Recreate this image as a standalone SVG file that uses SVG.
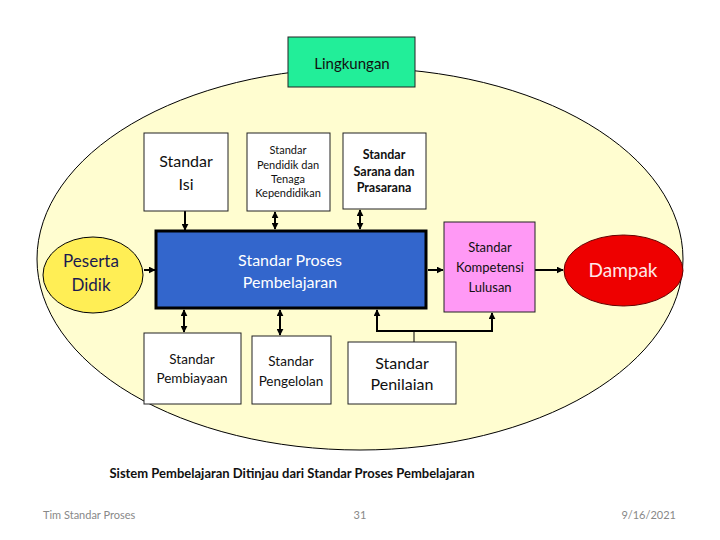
<svg xmlns="http://www.w3.org/2000/svg" width="720" height="540" viewBox="0 0 720 540">
<defs>
<marker id="ah" viewBox="0 0 10 10" refX="9" refY="5" markerWidth="3.5" markerHeight="3.5" orient="auto-start-reverse">
<path d="M0,0 L10,5 L0,10 z" fill="#000"/>
</marker>
<style>
text{font-family:Lato,"Open Sans","Liberation Sans",sans-serif;text-anchor:middle;fill:#111}
.box{fill:#fff;stroke:#222;stroke-width:1}
.c{fill:none;stroke:#000;stroke-width:2}
.a{marker-end:url(#ah)}
.aa{marker-start:url(#ah);marker-end:url(#ah)}
.foot{fill:#888;font-size:11px}
</style>
</defs>
<rect width="720" height="540" fill="#fff"/>
<g id="lingkungan-area">
<ellipse cx="360" cy="259" rx="323" ry="191" fill="#FFFDD0" stroke="#000" stroke-width="1"/>
</g>
<g id="lingkungan">
<rect x="288" y="37" width="127" height="50" fill="#22EE99" stroke="#222" stroke-width="1"/>
<text x="352" y="69" font-size="15">Lingkungan</text>
</g>
<g id="connectors">
<line class="c a" x1="185" y1="211" x2="185" y2="230"/>
<line class="c aa" x1="275" y1="212" x2="275" y2="229"/>
<line class="c aa" x1="360" y1="210" x2="360" y2="229"/>
<line class="c a" x1="144" y1="270" x2="155" y2="270"/>
<line class="c a" x1="428" y1="270" x2="443" y2="270"/>
<line class="c a" x1="535" y1="270" x2="563" y2="270"/>
<line class="c aa" x1="184" y1="310" x2="184" y2="332"/>
<line class="c aa" x1="280" y1="310" x2="280" y2="335"/>
<line x1="414" y1="331" x2="414" y2="342" stroke="#000" stroke-width="1"/>
<polyline class="c" points="377,312 377,331 492,331 492,314"/>
<line class="c a" x1="377" y1="320" x2="377" y2="310"/>
<line class="c a" x1="492" y1="320" x2="492" y2="313"/>
</g>
<g id="standar-isi">
<rect class="box" x="144" y="133" width="84" height="78"/>
<text x="186" y="167" font-size="16">Standar</text>
<text x="186" y="190" font-size="16">Isi</text>
</g>
<g id="standar-pendidik">
<rect class="box" x="247" y="133" width="83" height="78"/>
<text x="288" y="154" font-size="11">Standar</text>
<text x="288" y="169" font-size="11">Pendidik dan</text>
<text x="288" y="183" font-size="11">Tenaga</text>
<text x="288" y="197" font-size="11">Kependidikan</text>
</g>
<g id="standar-sarana">
<rect class="box" x="343" y="133" width="83" height="76"/>
<text x="384" y="159" font-size="12.5" font-weight="bold">Standar</text>
<text x="384" y="176" font-size="12.5" font-weight="bold">Sarana dan</text>
<text x="384" y="192" font-size="12.5" font-weight="bold">Prasarana</text>
</g>
<g id="standar-proses">
<rect x="156" y="231" width="270" height="77" fill="#3366CC" stroke="#000" stroke-width="3"/>
<text x="290" y="266" font-size="16" style="fill:#fff">Standar Proses</text>
<text x="290" y="288" font-size="16" style="fill:#fff">Pembelajaran</text>
</g>
<g id="standar-kompetensi">
<rect x="444" y="222" width="91" height="90" fill="#FF99F5" stroke="#222" stroke-width="1"/>
<text x="490" y="252" font-size="13">Standar</text>
<text x="490" y="272" font-size="13">Kompetensi</text>
<text x="490" y="292" font-size="13">Lulusan</text>
</g>
<g id="peserta-didik">
<ellipse cx="93" cy="275" rx="50" ry="38" fill="#FFEE55" stroke="#000" stroke-width="1"/>
<text x="91" y="267" font-size="17" style="fill:#1a1a50">Peserta</text>
<text x="91" y="291" font-size="17" style="fill:#1a1a50">Didik</text>
</g>
<g id="dampak">
<ellipse cx="623.5" cy="270.5" rx="59.5" ry="35.5" fill="#EE0000" stroke="#660000" stroke-width="1"/>
<text x="623" y="277" font-size="19" style="fill:#ffe8e8">Dampak</text>
</g>
<g id="standar-pembiayaan">
<rect class="box" x="144" y="333" width="97" height="71"/>
<text x="192" y="364" font-size="13.5">Standar</text>
<text x="192" y="383" font-size="13.5">Pembiayaan</text>
</g>
<g id="standar-pengelolan">
<rect class="box" x="252" y="336" width="79" height="68"/>
<text x="291" y="366" font-size="13.5">Standar</text>
<text x="291" y="386" font-size="13.5">Pengelolan</text>
</g>
<g id="standar-penilaian">
<rect class="box" x="348" y="342" width="108" height="62"/>
<text x="402" y="369" font-size="16">Standar</text>
<text x="402" y="390" font-size="16">Penilaian</text>
</g>
<g id="caption">
<text x="292" y="478" font-size="13" font-weight="bold">Sistem Pembelajaran Ditinjau dari Standar Proses Pembelajaran</text>
</g>
<g id="footer">
<text class="foot" x="43" y="519" style="text-anchor:start">Tim Standar Proses</text>
<text class="foot" x="360" y="519">31</text>
<text class="foot" x="676" y="519" style="text-anchor:end">9/16/2021</text>
</g>
</svg>
